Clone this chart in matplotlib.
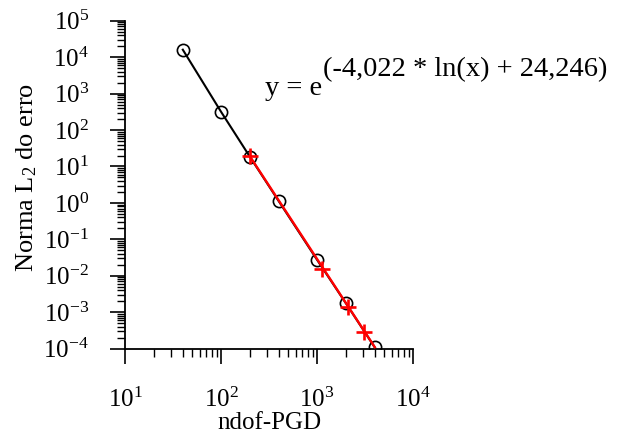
import numpy as np
import matplotlib
matplotlib.use('Agg')
import matplotlib.pyplot as plt
from matplotlib.ticker import LogLocator, NullFormatter

plt.rcParams['font.family'] = ['Liberation Serif', 'DejaVu Serif']
plt.rcParams['mathtext.fontset'] = 'custom'
plt.rcParams['mathtext.rm'] = 'Liberation Serif'
plt.rcParams['mathtext.it'] = 'Liberation Serif:italic'
plt.rcParams['axes.unicode_minus'] = False

# Data
ndof = [40, 100, 200, 400, 1000, 2000, 4000]
erro = [1.6e4, 318, 18.4, 1.11, 0.0276, 1.76e-3, 1.08e-4]

ndof_red = [200, 1140, 2100, 3080]
erro_red = [18.9, 0.0156, 1.43e-3, 2.93e-4]

# trend line end points (power fit)
trend_x = [200, 4000]
trend_y = [18.9, 1.1e-4]

fig = plt.figure(figsize=(6.21, 4.47), dpi=100)
ax = fig.add_axes([0.2013, 0.2199, 0.4638, 0.7338])

ax.plot(ndof, erro, color='black', linewidth=1.5, marker='o', markersize=8.8,
        markerfacecolor='none', markeredgecolor='black', markeredgewidth=1.2, zorder=3)
ax.plot(trend_x, trend_y, color='red', linewidth=1.7, zorder=4)
ax.plot(ndof_red, erro_red, linestyle='none', marker='+', markersize=12,
        markeredgewidth=1.9, color='red', zorder=5)

ax.set_xscale('log')
ax.set_yscale('log')
ax.set_xlim(10, 1e4)
ax.set_ylim(1e-4, 1e5)

ax.xaxis.set_major_locator(LogLocator(base=10, numticks=10))
ax.yaxis.set_major_locator(LogLocator(base=10, numticks=20))
ax.xaxis.set_minor_locator(LogLocator(base=10, subs=np.arange(2, 10), numticks=20))
ax.yaxis.set_minor_locator(LogLocator(base=10, subs=np.arange(2, 10), numticks=20))
ax.xaxis.set_minor_formatter(NullFormatter())
ax.yaxis.set_minor_formatter(NullFormatter())

for s in ['top', 'right']:
    ax.spines[s].set_visible(False)
for s in ['left', 'bottom']:
    ax.spines[s].set_linewidth(1.3)

ax.tick_params(axis='both', which='major', direction='out', length=11, width=1.2, labelsize=18)
ax.tick_params(axis='both', which='minor', direction='out', length=6, width=1.0)
ax.tick_params(axis='x', which='major', pad=17)
ax.tick_params(axis='y', which='major', pad=15)

ax.set_xlabel('ndof-PGD', fontsize=18, labelpad=0)
ax.set_ylabel(r'Norma L$_\mathregular{2}$ do erro', fontsize=19)
ax.yaxis.set_label_coords(-0.30, 0.522)

t1 = fig.text(0.4267, 0.7875, 'y = e', fontsize=20.5, va='baseline', ha='left')
ax.annotate('(-4,022 * ln(x) + 24,246)', xy=(1, 0), xycoords=t1,
            xytext=(1, 18), textcoords='offset points', fontsize=20.5,
            va='baseline', ha='left', annotation_clip=False)

fig.savefig('out.png', dpi=100)
